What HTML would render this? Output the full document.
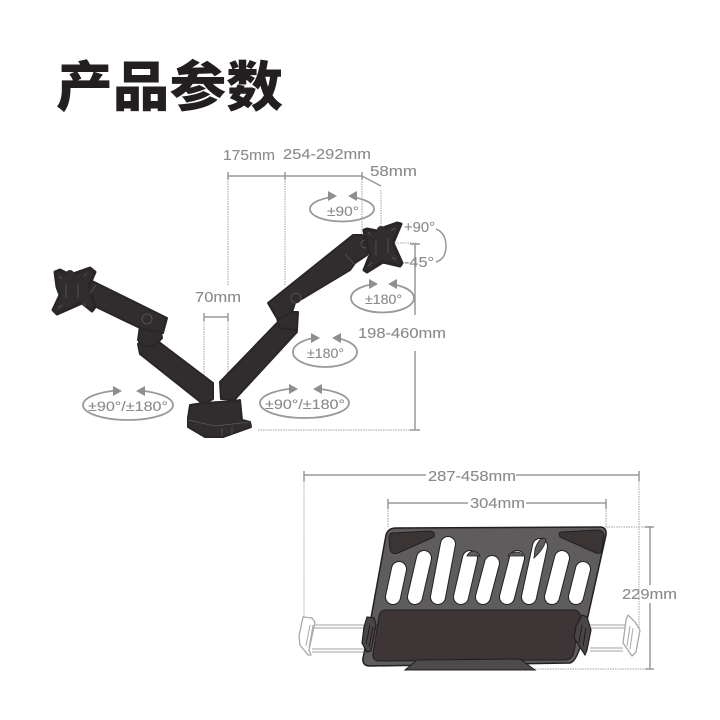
<!DOCTYPE html>
<html><head><meta charset="utf-8"><style>
html,body{margin:0;padding:0;background:#fff}
svg{display:block;filter:blur(.3px)}
text{font-family:"Liberation Sans","Noto Sans CJK SC",sans-serif;fill:#8b8989;font-size:14.500px;stroke:#8b8989;stroke-width:.1}
.t{font-family:"Noto Sans CJK SC","WenQuanYi Zen Hei",sans-serif;font-weight:900;font-size:54px;fill:#231f20;stroke:none}
.s{font-size:13.500px}
.d{stroke:#a3a1a1;stroke-width:1;stroke-dasharray:1.5 1;fill:none}
.l{stroke:#9a9898;stroke-width:1.5;fill:none}
.e{stroke:#9a9898;stroke-width:1.800;fill:none}
.a{fill:#8f8d8d}
.k{fill:#312c2d;stroke:#2a2526;stroke-width:2;stroke-linejoin:round}
.h{stroke:#5c5758;stroke-width:.8;fill:none}
</style></head><body>
<svg width="720" height="720" viewBox="0 0 720 720" xmlns="http://www.w3.org/2000/svg">
<rect width="720" height="720" fill="#fff"/>
<text class="t" x="56" y="106" textLength="227" lengthAdjust="spacingAndGlyphs">产品参数</text>

<!-- dims top -->
<path class="d" d="M228 176V286M285 176V285M204 316V376M228 316V376M362 176V240M381 190V226M390 243H417M258 430H416"/>
<path class="l" d="M228 172V180M228 176H362M285 172V180M362 172V180M362 176L381 186M204 313V321M228 313V321M204 317H228M415 244V315M415 351V430M410 244H420M410 430H420"/>
<text x="223" y="160" textLength="52" lengthAdjust="spacingAndGlyphs">175mm</text>
<text x="283" y="159" textLength="88" lengthAdjust="spacingAndGlyphs">254-292mm</text>
<text x="370" y="176" textLength="47" lengthAdjust="spacingAndGlyphs">58mm</text>
<text x="195" y="302" textLength="46" lengthAdjust="spacingAndGlyphs">70mm</text>
<text x="358" y="338" textLength="88" lengthAdjust="spacingAndGlyphs">198-460mm</text>
<text x="404" y="232" textLength="31" lengthAdjust="spacingAndGlyphs">+90°</text>
<text x="404" y="267" textLength="30" lengthAdjust="spacingAndGlyphs">-45°</text>
<path class="l" d="M436 229Q446 233 446 246Q446 259 436 262"/>

<!-- rotation ellipses -->
<ellipse class="e" cx="342" cy="209" rx="32" ry="12.500"/>
<rect x="330" y="192" width="24" height="8" fill="#fff"/>
<path class="a" d="M337 196L328 191V201ZM348 196L357 191V201Z"/>
<text x="327" y="216" class="s" textLength="32" lengthAdjust="spacingAndGlyphs">±90°</text>

<ellipse class="e" cx="382.500" cy="298" rx="31.500" ry="14.500"/>
<rect x="372" y="279" width="22" height="8" fill="#fff"/>
<path class="a" d="M378 284L369 279V289ZM388 284L397 279V289Z"/>
<text x="365" y="304" class="s" textLength="37" lengthAdjust="spacingAndGlyphs">±180°</text>

<ellipse class="e" cx="325" cy="352" rx="32" ry="15"/>
<rect x="314" y="333" width="24" height="8" fill="#fff"/>
<path class="a" d="M320 338L311 333V343ZM332 338L341 333V343Z"/>
<text x="307" y="358" class="s" textLength="37" lengthAdjust="spacingAndGlyphs">±180°</text>

<ellipse class="e" cx="304.500" cy="403" rx="44.500" ry="15"/>
<rect x="292" y="384" width="27" height="8" fill="#fff"/>
<path class="a" d="M298 389L289 384V394ZM313 389L322 384V394Z"/>
<text x="265" y="409" class="s" textLength="80" lengthAdjust="spacingAndGlyphs">±90°/±180°</text>

<ellipse class="e" cx="128" cy="405" rx="45" ry="15"/>
<rect x="116" y="386" width="26" height="8" fill="#fff"/>
<path class="a" d="M122 391L113 386V396ZM136 391L145 386V396Z"/>
<text x="88" y="411" class="s" textLength="80" lengthAdjust="spacingAndGlyphs">±90°/±180°</text>

<!-- left arm -->
<path class="k" d="M138 344L143 339H155L213 383V399L203 404L140 354Z"/>
<path class="k" d="M140 326H160L162 338L155 346H143L138 340Z"/>
<path class="k" d="M88 279L167 318L163 333L140 328L88 303Z"/>
<circle cx="147" cy="319" r="5" class="h"/>
<path class="k" style="stroke-width:3" d="M55 272L60 270L70 275L90 268L95 272L89 286L95 307L92 311L82 303L57 314L53 310L60 295L57 287Z"/>
<circle cx="70" cy="274" r="4" fill="#312c2d"/>
<path class="h" d="M66 284V298M78 284V298M59 276l3 3M87 273l-3 3M58 308l4-3M86 306l-3-3M90 293l6-8"/>

<!-- base -->
<path class="k" d="M190 405L203 403L236 401L240 400L242 420L250 422L251 427L223 437H205L188 427L188 418Z"/>
<path class="h" d="M188 420L215 426L250 422M222 428V436M232 427V434"/>

<!-- right arm -->
<path class="k" d="M220 382L278 322H295L297 332L237 397L235 400L221 399Z"/>
<path class="k" d="M276 312H298L297 330L279 328Z"/>
<path class="k" d="M268 303L353 235H362L370 243L367 255L355 263L350 270L295 303L292 312L278 320L275 315Z"/>
<circle cx="296" cy="298" r="5" class="h"/>
<circle cx="365" cy="244" r="4" class="h"/>
<path class="h" d="M345 254L355 265"/>
<path class="k" style="stroke-width:3" d="M364 230L367 229L377 231L383 228L397 223L401 224L393 243L402 263L400 266L383 262L367 272L364 270L370 255L365 236Z"/>
<circle cx="381" cy="230" r="4" fill="#312c2d"/>
<path class="h" d="M376 240V255M388 238V253M395 228l-4 3M368 232l3 3M368 266l4-3M396 260l-4-3"/>

<!-- tablet dims -->
<path class="d" d="M304 476V617M639 476V630M388 503V527M606 503V527M606 527H650M535 669H650"/>
<path class="l" d="M304 471V481M304 475H426M516 475H639M639 471V481M388 499V509M388 503H468M526 503H606M606 499V509M650 526V585M650 603V669M645 527H654M645 669H654"/>
<text x="428" y="481" textLength="88" lengthAdjust="spacingAndGlyphs">287-458mm</text>
<text x="470" y="508" textLength="55" lengthAdjust="spacingAndGlyphs">304mm</text>
<text x="622" y="599" textLength="55" lengthAdjust="spacingAndGlyphs">229mm</text>

<!-- clamps -->
<path d="M312 625H365M312 628H365M312 649H365M312 652H365M590 625H625M590 628H625M590 648H623M590 651H623" stroke="#b5b3b3" stroke-width="1.200" fill="none"/>
<path d="M303 617L312 618L315 622L309 650L311 655L308 655L300 645L299 636Z" fill="#fff" stroke="#aaa8a8" stroke-width="1.300" stroke-linejoin="round"/>
<path d="M310 625L306 646M313 625L309 648" stroke="#aaa8a8" fill="none"/>
<path d="M628 615L635 622L640 630L636 652L632 656L623 643L626 620Z" fill="#fff" stroke="#aaa8a8" stroke-width="1.300" stroke-linejoin="round"/>
<path d="M630 626L627 646M633 628L630 649" stroke="#aaa8a8" fill="none"/>

<!-- tablet -->
<path d="M396 528L600 527Q607 527 606 535L586 625Q578 662 570 663L370 666Q362 666 363 658L367 640L386 535Q388 528 396 528Z" fill="#5e5c5c" stroke="#231f20" stroke-width="1.500"/>
<path d="M392 533L431 531Q436 533 434 537L398 553Q392 555 390 550L389 538Q389 534 392 533Z" fill="#3b3435" stroke="#231f20"/>
<path d="M561 532L598 530Q604 531 604 536L602 550Q601 554 596 553L560 537Q558 533 561 532Z" fill="#3b3435" stroke="#231f20"/>
<path stroke="#231f20" stroke-width="16" stroke-linecap="round" fill="none" d="M399 569L393 597M424 558L415 597M448 544L438 597M470 558L461 597M492 563L483 597M517 558L507 597M540 546L529 597M562 558L552 597M583 569L576 597"/>
<path stroke="#fff" stroke-width="14" stroke-linecap="round" fill="none" d="M399 569L393 597M424 558L415 597M448 544L438 597M470 558L461 597M492 563L483 597M517 558L507 597M540 546L529 597M562 558L552 597M583 569L576 597"/>
<path d="M472 551Q468 553 467 556L480 556Q478 551 472 551ZM516 552Q510 552 508 556L523 556Q522 552 516 552ZM543 538Q538 540 535 549L534 558Q545 548 546 539Z" fill="#5e5c5c" stroke="#231f20" stroke-width=".8"/>
<path d="M386 610L574 610Q581 611 580 618L574 652Q572 660 565 660L378 661Q372 660 373 654L379 616Q380 610 386 610Z" fill="#3d3536" stroke="#231f20"/>
<path d="M405 670L417 660L520 659L535 670Z" fill="#4c4a4a" stroke="#231f20"/>
<path d="M367 617L374 618L376 625L371 651L367 652L362 643L364 627Z" fill="#4a4546" stroke="#231f20" stroke-width="1.200"/>
<path d="M370 625L366 644M373 627L369 647" stroke="#211d1e" fill="none"/>
<path d="M582 615L587 617L591 630L587 650L585 655L574 638L576 626Z" fill="#4a4546" stroke="#231f20" stroke-width="1.200"/>
<path d="M582 625L579 643M586 628L583 646" stroke="#211d1e" fill="none"/>
</svg>
</body></html>
